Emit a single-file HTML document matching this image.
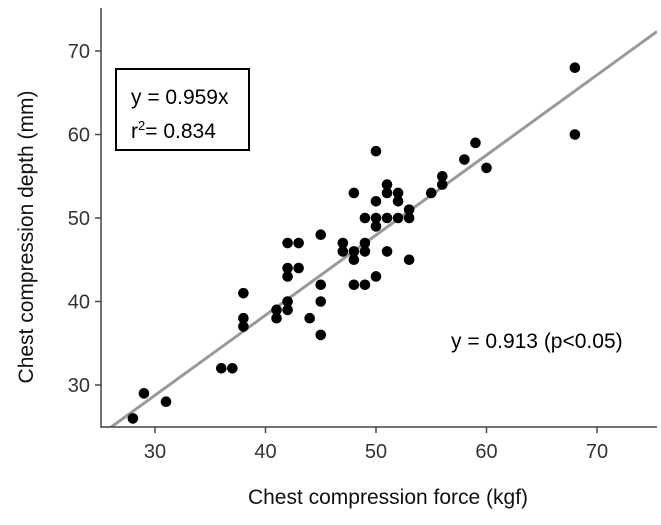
<!DOCTYPE html>
<html><head><meta charset="utf-8"><style>
body{margin:0;background:#fff}
svg{display:block;font-family:"Liberation Sans",Arial,sans-serif}
</style></head><body>
<svg id="c" width="661" height="525"></svg>
<script>
const xs=[28,29,31,36,37,38,38,38,41,41,42,42,42,42,42,43,43,44,45,45,45,45,47,47,48,48,48,48,49,49,49,49,50,50,50,50,50,51,51,51,51,52,52,52,53,53,53,55,56,56,58,59,60,68,68];
const ys=[26,29,28,32,32,41,38,37,39,38,47,44,43,40,39,47,44,38,48,42,40,36,47,46,53,46,45,42,50,47,46,42,58,52,50,49,43,54,53,50,46,53,52,50,51,50,45,53,55,54,57,59,56,68,60];
const xTicks=[30,40,50,60,70];
const yTicks=[30,40,50,60,70];
const slope=[0.959];
const NS="http://www.w3.org/2000/svg";
const svg=document.getElementById('c');
const L=101,R=657,T=8,B=427;
const sx=v=>155+(v-30)*11.05;
const sy=v=>385-(v-30)*8.35;
function el(t,a,p){const e=document.createElementNS(NS,t);for(const k in a)e.setAttribute(k,a[k]);(p||svg).appendChild(e);return e;}
const defs=el('defs',{});const cp=el('clipPath',{id:'pc'},defs);el('rect',{x:L,y:T,width:R-L,height:B-T},cp);
const x0=(L-155)/11.05+30,x1=(R-155)/11.05+30;
const line=el('line',{x1:sx(x0),y1:sy(slope[0]*x0),x2:sx(x1),y2:sy(slope[0]*x1),stroke:'#9a9a9a','stroke-width':3,'clip-path':'url(#pc)'});


for(let i=0;i<xs.length;i++){
  const c=el('circle',{cx:sx(xs[i]),cy:sy(ys[i]),r:5.3,fill:'#000'});
  
  
}
const ax=el('path',{d:`M${L},${T}V${B}H${R}`,fill:'none',stroke:'#444','stroke-width':1.5});


xTicks.forEach(v=>{
  el('line',{x1:sx(v),x2:sx(v),y1:B,y2:B+6,stroke:'#444','stroke-width':1.5});
  const t=el('text',{x:sx(v),y:B+31,'text-anchor':'middle','font-size':20,fill:'#333'});
  t.textContent=v;
  
  
});
yTicks.forEach(v=>{
  el('line',{x1:L-6,x2:L,y1:sy(v),y2:sy(v),stroke:'#444','stroke-width':1.5});
  const t=el('text',{x:L-11,y:sy(v)+7,'text-anchor':'end','font-size':20,fill:'#333'});
  t.textContent=v;
  
  
});
</script>
<svg width="661" height="525" style="position:absolute;left:0;top:0">
<g font-family="Liberation Sans, Arial, sans-serif">
<rect x="116" y="69" width="133" height="81" fill="#fff" stroke="#000" stroke-width="2"/>
<text x="131" y="104" font-size="21">y = 0.959x</text>
<text x="131" y="138" font-size="21">r<tspan font-size="13" dy="-8">2</tspan><tspan dy="8">= 0.834</tspan></text>
<text x="451" y="348" font-size="21">y = 0.913 (p&lt;0.05)</text>
<text x="388" y="504" font-size="21" text-anchor="middle" fill="#111">Chest compression force (kgf)</text>
<text transform="translate(33,237) rotate(-90)" font-size="21" text-anchor="middle" fill="#111">Chest compression depth (mm)</text>
</g></svg>
</body></html>
